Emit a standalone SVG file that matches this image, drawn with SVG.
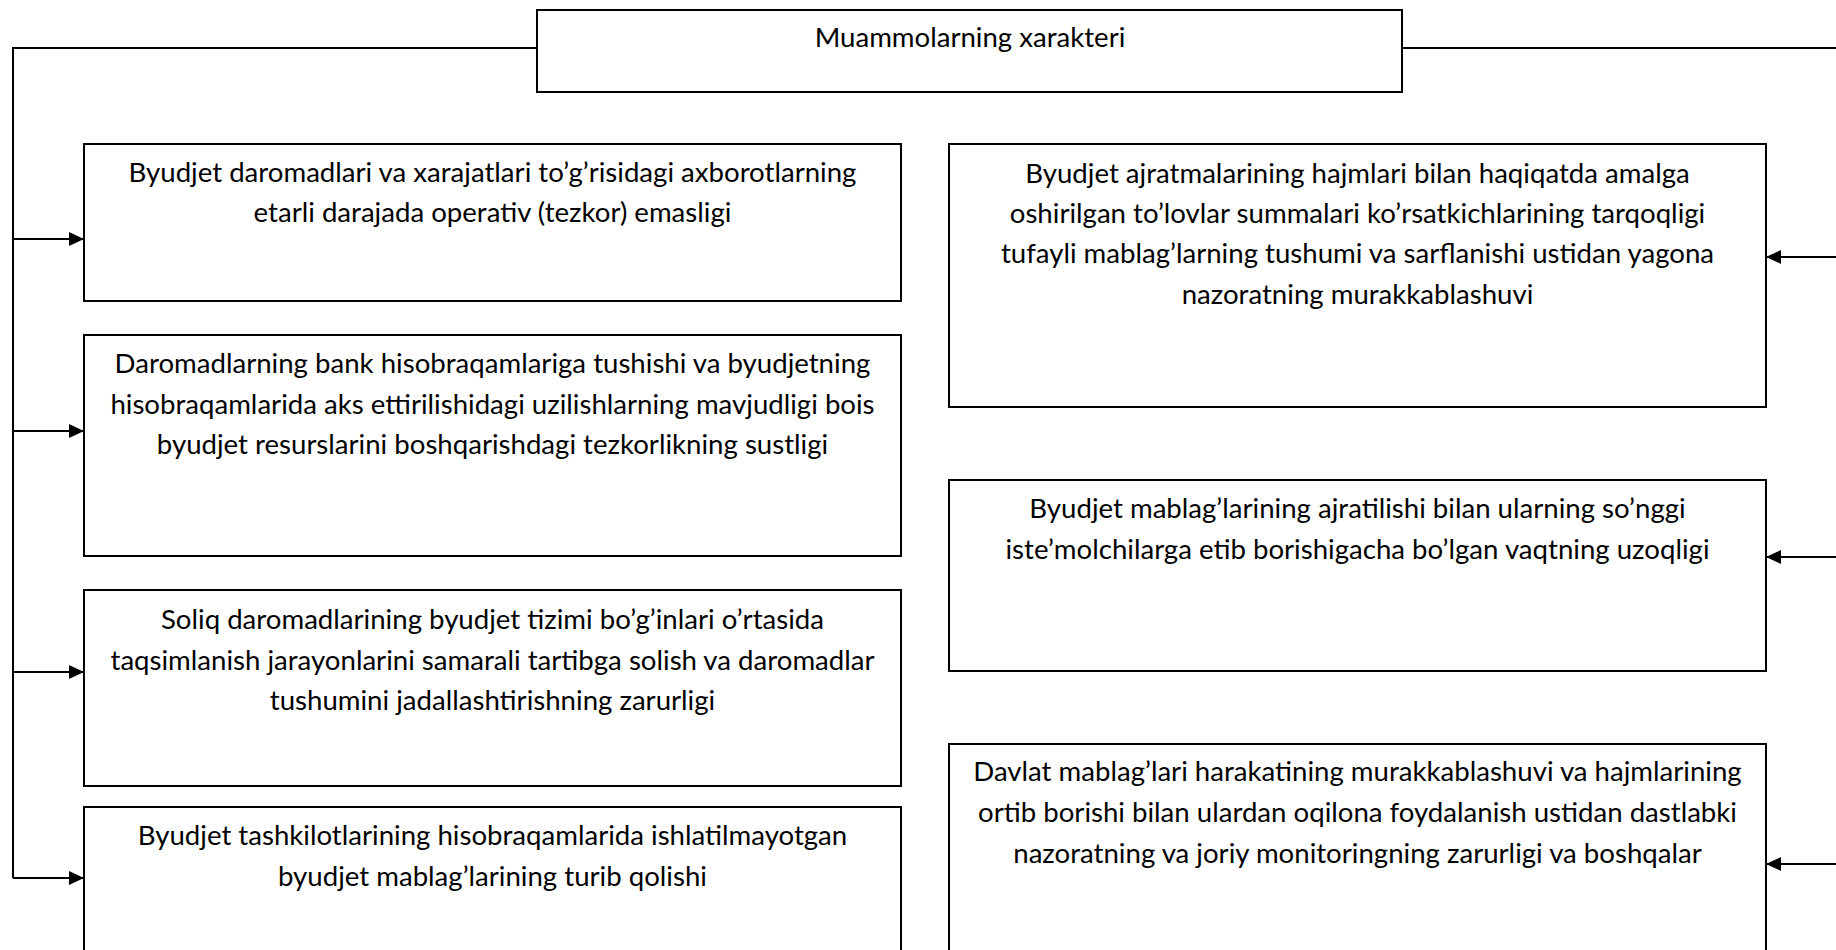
<svg xmlns="http://www.w3.org/2000/svg" width="1836" height="950" viewBox="0 0 1836 950">
<style>
.box{fill:#fff;stroke:#000;stroke-width:2}
.ln{fill:none;stroke:#000;stroke-width:2}
text{font-family:Lato,"Open Sans","Liberation Sans",sans-serif;font-size:27.6px;fill:#000;text-anchor:middle}
</style>
<defs>
<marker id="ah" viewBox="0 0 15 14" refX="15" refY="7" markerWidth="15" markerHeight="14" markerUnits="userSpaceOnUse" orient="auto">
<path d="M0,0 L15,7 L0,14 Z" fill="#000"/>
</marker>
</defs>
<rect width="1836" height="950" fill="#fff"/>
<g id="connectors">
<path class="ln" d="M537,48 H13 V878"/>
<path class="ln" d="M1402,48 H1836"/>
<path class="ln" d="M13,239 H84" marker-end="url(#ah)"/>
<path class="ln" d="M13,431 H84" marker-end="url(#ah)"/>
<path class="ln" d="M13,672 H84" marker-end="url(#ah)"/>
<path class="ln" d="M13,878 H84" marker-end="url(#ah)"/>
<path class="ln" d="M1836,257 H1766" marker-end="url(#ah)"/>
<path class="ln" d="M1836,557 H1766" marker-end="url(#ah)"/>
<path class="ln" d="M1836,864 H1766" marker-end="url(#ah)"/>
</g>
<g id="top">
<rect class="box" x="537" y="10" width="865" height="82"/>
<text x="970" y="47">Muammolarning xarakteri</text>
</g>
<g id="l1">
<rect class="box" x="84" y="144" width="817" height="157"/>
<text x="492.5" y="182">Byudjet daromadlari va xarajatlari to’g’risidagi axborotlarning</text>
<text x="492.5" y="222">etarli darajada operativ (tezkor) emasligi</text>
</g>
<g id="l2">
<rect class="box" x="84" y="335" width="817" height="221"/>
<text x="492.5" y="373">Daromadlarning bank hisobraqamlariga tushishi va byudjetning</text>
<text x="492.5" y="413.5">hisobraqamlarida aks ettirilishidagi uzilishlarning mavjudligi bois</text>
<text x="492.5" y="454">byudjet resurslarini boshqarishdagi tezkorlikning sustligi</text>
</g>
<g id="l3">
<rect class="box" x="84" y="590" width="817" height="196"/>
<text x="492.5" y="629">Soliq daromadlarining byudjet tizimi bo’g’inlari o’rtasida</text>
<text x="492.5" y="669.5">taqsimlanish jarayonlarini samarali tartibga solish va daromadlar</text>
<text x="492.5" y="710">tushumini jadallashtirishning zarurligi</text>
</g>
<g id="l4">
<rect class="box" x="84" y="807" width="817" height="160"/>
<text x="492.5" y="845">Byudjet tashkilotlarining hisobraqamlarida ishlatilmayotgan</text>
<text x="492.5" y="886">byudjet mablag’larining turib qolishi</text>
</g>
<g id="r1">
<rect class="box" x="949" y="144" width="817" height="263"/>
<text x="1357.5" y="182.5">Byudjet ajratmalarining hajmlari bilan haqiqatda amalga</text>
<text x="1357.5" y="222.5">oshirilgan to’lovlar summalari ko’rsatkichlarining tarqoqligi</text>
<text x="1357.5" y="263">tufayli mablag’larning tushumi va sarflanishi ustidan yagona</text>
<text x="1357.5" y="304">nazoratning murakkablashuvi</text>
</g>
<g id="r2">
<rect class="box" x="949" y="480" width="817" height="191"/>
<text x="1357.5" y="518">Byudjet mablag’larining ajratilishi bilan ularning so’nggi</text>
<text x="1357.5" y="559">iste’molchilarga etib borishigacha bo’lgan vaqtning uzoqligi</text>
</g>
<g id="r3">
<rect class="box" x="949" y="744" width="817" height="223"/>
<text x="1357.5" y="781">Davlat mablag’lari harakatining murakkablashuvi va hajmlarining</text>
<text x="1357.5" y="822">ortib borishi bilan ulardan oqilona foydalanish ustidan dastlabki</text>
<text x="1357.5" y="863">nazoratning va joriy monitoringning zarurligi va boshqalar</text>
</g>
</svg>
